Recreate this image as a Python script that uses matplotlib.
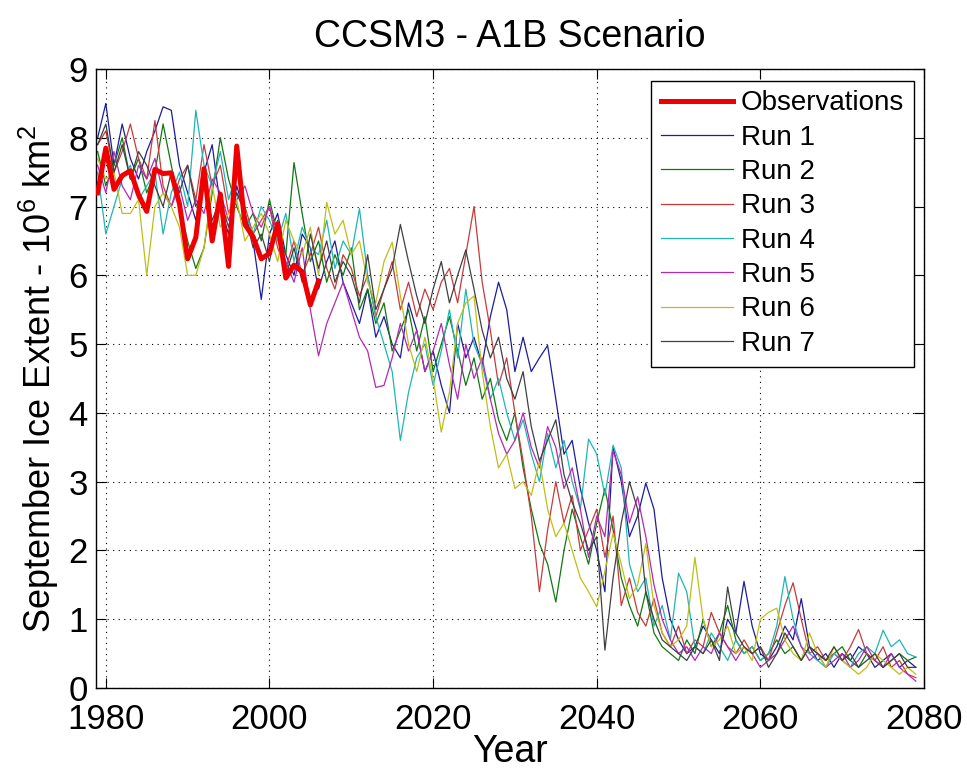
import numpy as np
import matplotlib
matplotlib.use("Agg")
import matplotlib.pyplot as plt


# ======================================================================
# Data
# ======================================================================

run_years = np.arange(1979, 2080)
obs_years = np.arange(1979, 2007)

observations = [7.20, 7.85, 7.25, 7.45, 7.52, 7.17, 6.93, 7.54, 7.48, 7.49,
                7.04, 6.24, 6.55, 7.55, 6.50, 7.18, 6.13, 7.88, 6.74, 6.56,
                6.24, 6.32, 6.75, 5.96, 6.15, 6.05, 5.57, 5.92]

run1 = [8.0, 8.5, 7.6, 8.2, 7.7, 7.4, 7.8, 8.1, 8.45, 8.4,
        7.6, 7.2, 6.8, 7.5, 7.9, 7.0, 6.6, 7.3, 6.9, 6.5,
        5.65, 6.6, 6.9, 6.3, 6.0, 6.6, 6.4, 5.8, 6.2, 6.5,
        5.9, 5.6, 5.3, 5.8, 5.1, 5.4, 5.0, 4.8, 5.6, 5.2,
        4.6, 4.9, 4.4, 4.0, 5.3, 4.8, 5.1, 4.7, 5.4, 5.9,
        5.5, 4.6, 5.1, 4.6, 4.8, 4.98, 4.2, 3.4, 3.6, 2.9,
        2.4, 2.0, 1.4, 3.5, 3.0, 2.2, 2.5, 2.98, 2.6, 1.6,
        1.0, 0.7, 0.5, 0.6, 0.9, 0.7, 0.5, 1.0, 0.8, 1.55,
        0.9, 0.5, 0.4, 0.6, 0.9, 0.7, 1.3, 0.6, 0.4, 0.5,
        0.3, 0.5, 0.4, 0.6, 0.5, 0.3, 0.4, 0.5, 0.3, 0.4,
        0.3]

run2 = [7.8, 7.3, 7.6, 8.0, 7.4, 7.7, 7.2, 7.5, 8.2, 7.6,
        7.0, 6.5, 6.1, 6.4, 7.2, 8.0, 7.4, 7.0, 6.7, 6.9,
        6.5, 7.1, 6.6, 6.3, 7.64, 6.9, 6.2, 6.5, 5.9, 6.3,
        6.0, 6.4, 5.5, 5.8, 5.3, 5.6, 4.9, 5.2, 5.5, 4.9,
        5.4, 4.6, 5.0, 5.4, 4.9, 4.4, 4.8, 4.2, 4.5, 3.9,
        3.6, 4.0, 3.2, 2.6, 2.1, 1.8, 1.25, 2.0, 2.6, 2.2,
        1.8, 2.4, 2.9, 2.3, 1.6, 1.2, 0.9, 1.4, 0.8, 0.6,
        0.5, 0.4, 0.7, 0.5, 1.0, 0.6, 0.8, 1.2, 0.7, 0.5,
        0.6, 0.4, 0.5, 0.7, 0.5, 0.6, 0.4, 0.6, 0.5, 0.4,
        0.5, 0.6, 0.4, 0.3, 0.5, 0.4, 0.3, 0.4, 0.5, 0.4,
        0.45]

run3 = [7.9, 8.1, 7.5, 7.8, 8.2, 7.7, 7.4, 8.25, 7.3, 7.0,
        7.4, 7.6, 7.1, 7.9, 7.3, 7.6, 6.9, 7.2, 7.0, 6.6,
        6.8, 7.0, 6.4, 6.1, 6.5, 6.0, 6.3, 6.7, 6.1, 5.8,
        6.3, 6.1, 5.7, 6.0, 5.4, 5.8, 6.2, 5.5, 5.9, 5.4,
        5.8, 5.5, 5.9, 6.1, 5.6, 6.3, 7.0, 5.9, 5.2, 4.4,
        4.8, 4.0, 3.3, 2.5, 1.4, 2.3, 3.0, 2.4, 2.8, 2.0,
        2.3, 2.6, 1.9, 2.5, 1.2, 1.6, 1.1, 0.9, 1.3, 0.8,
        0.6, 0.9, 0.5, 0.7, 0.6, 1.1, 0.8, 0.6, 0.5, 0.7,
        0.5, 0.6, 0.4, 0.8, 1.2, 1.53, 1.0, 0.5, 0.6, 0.4,
        0.5, 0.4, 0.6, 0.85, 0.5, 0.4, 0.6, 0.3, 0.4, 0.2,
        0.15]

run4 = [7.5, 6.6, 7.0, 7.4, 7.6, 7.1, 7.3, 7.5, 6.6, 7.2,
        7.5, 7.0, 8.4, 7.6, 7.3, 7.8, 7.1, 7.5, 6.9, 6.6,
        7.0, 6.8, 6.5, 6.9, 6.2, 6.7, 6.4, 6.3, 6.8, 6.1,
        6.5, 6.3, 6.97, 6.0, 5.4, 5.0, 4.6, 3.6, 4.3, 4.8,
        5.0, 4.4, 4.9, 5.5, 4.8, 5.8, 5.0, 4.7, 4.2, 4.5,
        4.0, 3.6, 3.9, 3.4, 3.0, 3.7, 3.2, 3.6, 3.0, 2.6,
        3.62, 3.4, 2.8, 3.53, 3.2, 1.8, 1.4, 1.6, 0.9, 1.2,
        0.7, 1.67, 1.4, 0.6, 0.5, 0.8, 0.6, 0.4, 0.7, 0.5,
        0.6, 0.4, 0.5, 0.9, 1.62, 1.0, 0.6, 0.5, 0.4, 0.3,
        0.5, 0.4, 0.3, 0.5, 0.6, 0.5, 0.84, 0.6, 0.7, 0.5,
        0.45]

run5 = [7.6, 7.2, 7.8, 7.3, 7.1, 7.6, 7.4, 7.7, 7.2, 7.0,
        7.3, 6.8, 7.1, 6.9, 7.4, 7.2, 6.8, 7.1, 7.3, 6.9,
        6.7, 7.0, 6.6, 6.2, 5.9, 6.4, 5.5, 4.83, 5.3, 5.6,
        5.9, 5.5, 5.1, 4.9, 4.37, 4.4, 4.8, 5.3, 4.9, 5.2,
        4.6, 4.9, 5.3, 4.7, 4.2, 5.0, 4.5, 4.8, 4.2, 3.7,
        3.4, 3.6, 4.0, 3.5, 3.2, 3.8, 3.5, 2.9, 3.2, 2.6,
        1.9, 2.5, 2.2, 3.45, 3.1, 2.4, 2.78, 2.2, 1.5, 1.0,
        0.7, 0.5, 0.6, 0.4, 0.6, 0.5, 0.8, 0.6, 0.4, 0.6,
        0.5, 0.3, 0.4, 0.5, 0.7, 0.9, 0.6, 0.4, 0.5, 0.3,
        0.4, 0.5, 0.3, 0.4, 0.6, 0.4, 0.3, 0.5, 0.3, 0.2,
        0.1]

run6 = [7.7, 7.4, 7.5, 6.9, 6.9, 7.1, 6.0, 7.0, 7.2, 7.0,
        6.7, 6.0, 6.0, 6.4, 7.3, 6.7, 6.9, 7.1, 6.5, 6.7,
        6.9, 6.6, 6.2, 6.8, 6.5, 6.3, 6.7, 6.0, 7.06, 6.6,
        6.8, 6.3, 6.5, 5.9, 5.6, 6.2, 6.48, 5.7, 5.0, 4.6,
        5.1, 4.5, 3.72, 4.3, 5.3, 5.6, 5.7, 4.6, 3.8, 3.2,
        3.4, 2.9, 3.0, 2.8, 3.3, 2.6, 2.2, 2.4, 2.0, 1.6,
        1.4, 1.18, 1.7, 2.25, 1.8, 1.3, 1.5, 2.1, 1.2, 0.8,
        0.6, 0.7, 0.9, 1.9, 1.0, 0.6, 0.7, 0.9, 0.5, 0.6,
        0.4, 1.0, 1.1, 1.16, 0.7, 0.5, 0.4, 0.8, 0.5, 0.3,
        0.6, 0.4, 0.3, 0.2, 0.3, 0.5, 0.4, 0.3, 0.2, 0.3,
        0.2]

run7 = [7.9, 8.2, 7.5, 7.9, 7.4, 7.8, 7.6, 7.3, 7.0, 7.5,
        7.2, 7.6, 7.0, 7.3, 6.8, 7.1, 6.7, 7.2, 6.9, 6.4,
        6.6, 6.2, 6.8, 6.0, 6.4, 5.9, 6.6, 6.1, 6.5, 5.9,
        6.2, 6.0, 5.6, 6.3, 5.5, 5.8, 6.1, 6.74, 6.2, 5.7,
        5.3, 5.8, 6.2, 5.6, 6.0, 6.37, 5.8, 5.2, 4.8, 5.1,
        4.5, 4.2, 4.6, 3.8, 3.3, 3.6, 3.9, 3.1, 2.7, 2.4,
        2.0, 2.2, 0.55, 1.6, 2.4, 3.0, 2.6, 1.4, 1.0, 0.7,
        0.6, 0.5, 0.4, 0.6, 0.5, 0.7, 0.4, 1.47, 0.8, 0.6,
        0.5, 0.6, 0.3, 0.5, 0.8, 0.6, 0.4, 0.6, 0.5, 0.4,
        0.6, 0.4, 0.5, 0.3, 0.4, 0.5, 0.3, 0.4, 0.5, 0.3,
        0.3]

runs = [run1, run2, run3, run4, run5, run6, run7]
run_labels = ["Run 1", "Run 2", "Run 3", "Run 4", "Run 5", "Run 6", "Run 7"]
run_colors = ["#1c1c9c", "#107810", "#c83a3a", "#20b4b4",
              "#b428b4", "#bebe18", "#404040"]

x_ticks = [1980, 2000, 2020, 2040, 2060, 2080]
y_ticks = list(range(0, 10))


# ======================================================================
# Plot
# ======================================================================

plt.rcParams["font.family"] = ["Liberation Sans", "DejaVu Sans"]
plt.rcParams["mathtext.default"] = "regular"

fig = plt.figure(figsize=(9.67, 7.72), dpi=100)
ax = fig.add_axes([96 / 967, 84 / 772, 828 / 967, 619 / 772])

ax.plot(obs_years, observations, color="#ee0000", lw=3.6,
        label="Observations", zorder=5)
for values, label, color in zip(runs, run_labels, run_colors):
    ax.plot(run_years, values, color=color, lw=0.9, label=label)

ax.set_xlim(1978.8, 2080)
ax.set_ylim(0, 9)
ax.set_xticks(x_ticks)
ax.set_yticks(y_ticks)
ax.tick_params(direction="in", length=7, width=0.8, top=True, right=True,
               labelsize=25)
ax.tick_params(axis="x", pad=11)
ax.tick_params(axis="y", pad=6)
ax.grid(True, linestyle=(0, (1, 4)), color="black", lw=0.8)
for spine in ax.spines.values():
    spine.set_linewidth(1.0)

ax.set_title("CCSM3 - A1B Scenario", fontsize=27, pad=16)
ax.set_xlabel("Year", fontsize=27, labelpad=-2)
ax.set_ylabel("September Ice Extent - 10$^6$ km$^2$", fontsize=26, labelpad=5)

leg = ax.legend(loc="upper right", bbox_to_anchor=(0.988, 0.981),
                borderaxespad=0, fontsize=20, fancybox=False,
                edgecolor="black", framealpha=1, handlelength=2.6,
                handletextpad=0.3, labelspacing=0.3, borderpad=0.35)
leg.get_frame().set_linewidth(1.0)

fig.savefig("out.png", dpi=100)
